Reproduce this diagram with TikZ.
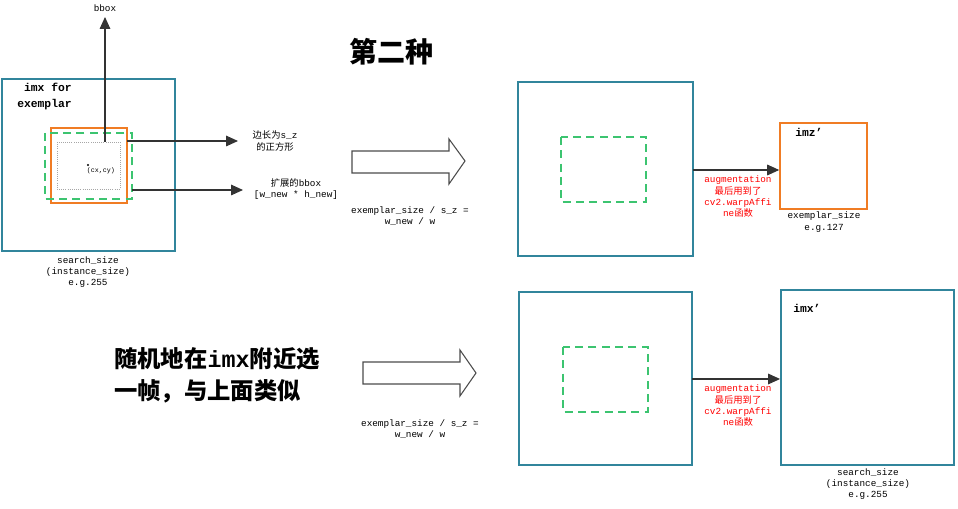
\documentclass[tikz,border=0pt]{standalone}
\usepackage{fontspec}
\setmainfont{Liberation Mono}
\newfontfamily\cjk{Noto Sans CJK SC}
\usetikzlibrary{arrows.meta}
\definecolor{teal1}{HTML}{31859C}
\definecolor{orng}{HTML}{F07C24}
\definecolor{grn}{HTML}{3CC470}
\begin{document}
\begin{tikzpicture}[x=0.75pt,y=-0.75pt,
  box/.style={draw=teal1,line width=1.4pt},
  obox/.style={draw=orng,line width=1.4pt},
  gdash/.style={draw=grn,line width=1.2pt,dash pattern=on 6pt off 4pt},
  arr/.style={draw=black!80,line width=0.8pt,-{Triangle[length=9pt,width=8pt]}},
  lbl/.style={font=\fontsize{7}{8.5}\selectfont,align=center,inner sep=0pt},
  red/.style={lbl,text=red},
  bigarrow/.style={draw=black!70,fill=white,line width=0.8pt}]
\useasboundingbox (0,0) rectangle (958,509);
% left
\draw[box] (2,79) rectangle (175,251);
\node[anchor=north west,inner sep=0pt,align=left,font=\bfseries\fontsize{8.5}{12}\selectfont] (imxt) at (17,83) {\ imx for\\exemplar};
\draw[obox,line width=1pt] (51,128) rectangle (127,203);
\draw[gdash] (45,133) rectangle (132,199);
\draw[gray!70,densely dotted,line width=0.6pt] (57,142) rectangle (120,189);
\fill (88,165) circle (1.2);
\node[lbl,font=\fontsize{5}{6}\selectfont] (cxy) at (101,171) {(cx,cy)};
\coordinate (bt) at (105,142);
\node[lbl] (bbox) at (105,8) {bbox};
\draw[arr] (bt) -- (105,17);
\coordinate (s1) at (127,141);
\node[lbl] (sq) at (275,141) {\cjk 边长为\normalfont s\_z\\\cjk 的正方形};
\draw[arr] (s1) -- (238,141);
\coordinate (s2) at (132,190);
\node[lbl] (ext) at (296,189) {\cjk 扩展的\normalfont bbox\\{}[w\_new * h\_new]};
\draw[arr] (s2) -- (243,190);
\node[lbl] (ss1) at (88,272) {search\_size\\(instance\_size)\\e.g.255};
\node[font=\cjk\bfseries\fontsize{21}{24}\selectfont] (title) at (391,52) {第二种};
% top row
\draw[bigarrow] (352,151) -- (449,151) -- (449,139) -- (465,161) -- (449,184) -- (449,173) -- (352,173) -- cycle;
\node[lbl] (f1) at (410,216) {exemplar\_size / s\_z =\\w\_new / w};
\draw[box] (518,82) rectangle (693,256);
\draw[gdash] (561,137) rectangle (646,202);
\node[obox,minimum width=65pt,minimum height=64.5pt,inner sep=0pt] (imz) at (823.5,166) {};
\node[anchor=north west,inner sep=0pt,font=\bfseries\fontsize{8.5}{10}\selectfont] at (795,128) {imz'};
\draw[arr] (693,170) -- (imz.west |- 0,170);
\node[red] (aug1) at (738,197) {augmentation\\\cjk 最后用到了\\cv2.warpAffi\\ne\cjk 函数};
\node[lbl] (es) at (824,222) {exemplar\_size\\e.g.127};
% bottom row
\node[font=\cjk\bfseries\fontsize{17.5}{24}\selectfont,align=left] (rand) at (217,375) {随机地在{\normalfont\bfseries imx}附近选\\一帧，与上面类似};
\draw[bigarrow] (363,362) -- (460,362) -- (460,350) -- (476,373) -- (460,396) -- (460,384) -- (363,384) -- cycle;
\node[lbl] (f2) at (420,429) {exemplar\_size / s\_z =\\w\_new / w};
\draw[box] (519,292) rectangle (692,465);
\draw[gdash] (563,347) rectangle (648,412);
\node[box,minimum width=129.75pt,minimum height=131.25pt,inner sep=0pt] (imx2) at (867.5,377.5) {};
\node[anchor=north west,inner sep=0pt,font=\bfseries\fontsize{8.5}{10}\selectfont] at (793,304) {imx'};
\draw[arr] (692,379) -- (imx2.west |- 0,379);
\node[red] (aug2) at (738,406) {augmentation\\\cjk 最后用到了\\cv2.warpAffi\\ne\cjk 函数};
\node[lbl] (ss2) at (868,484) {search\_size\\(instance\_size)\\e.g.255};
\end{tikzpicture}
\end{document}
